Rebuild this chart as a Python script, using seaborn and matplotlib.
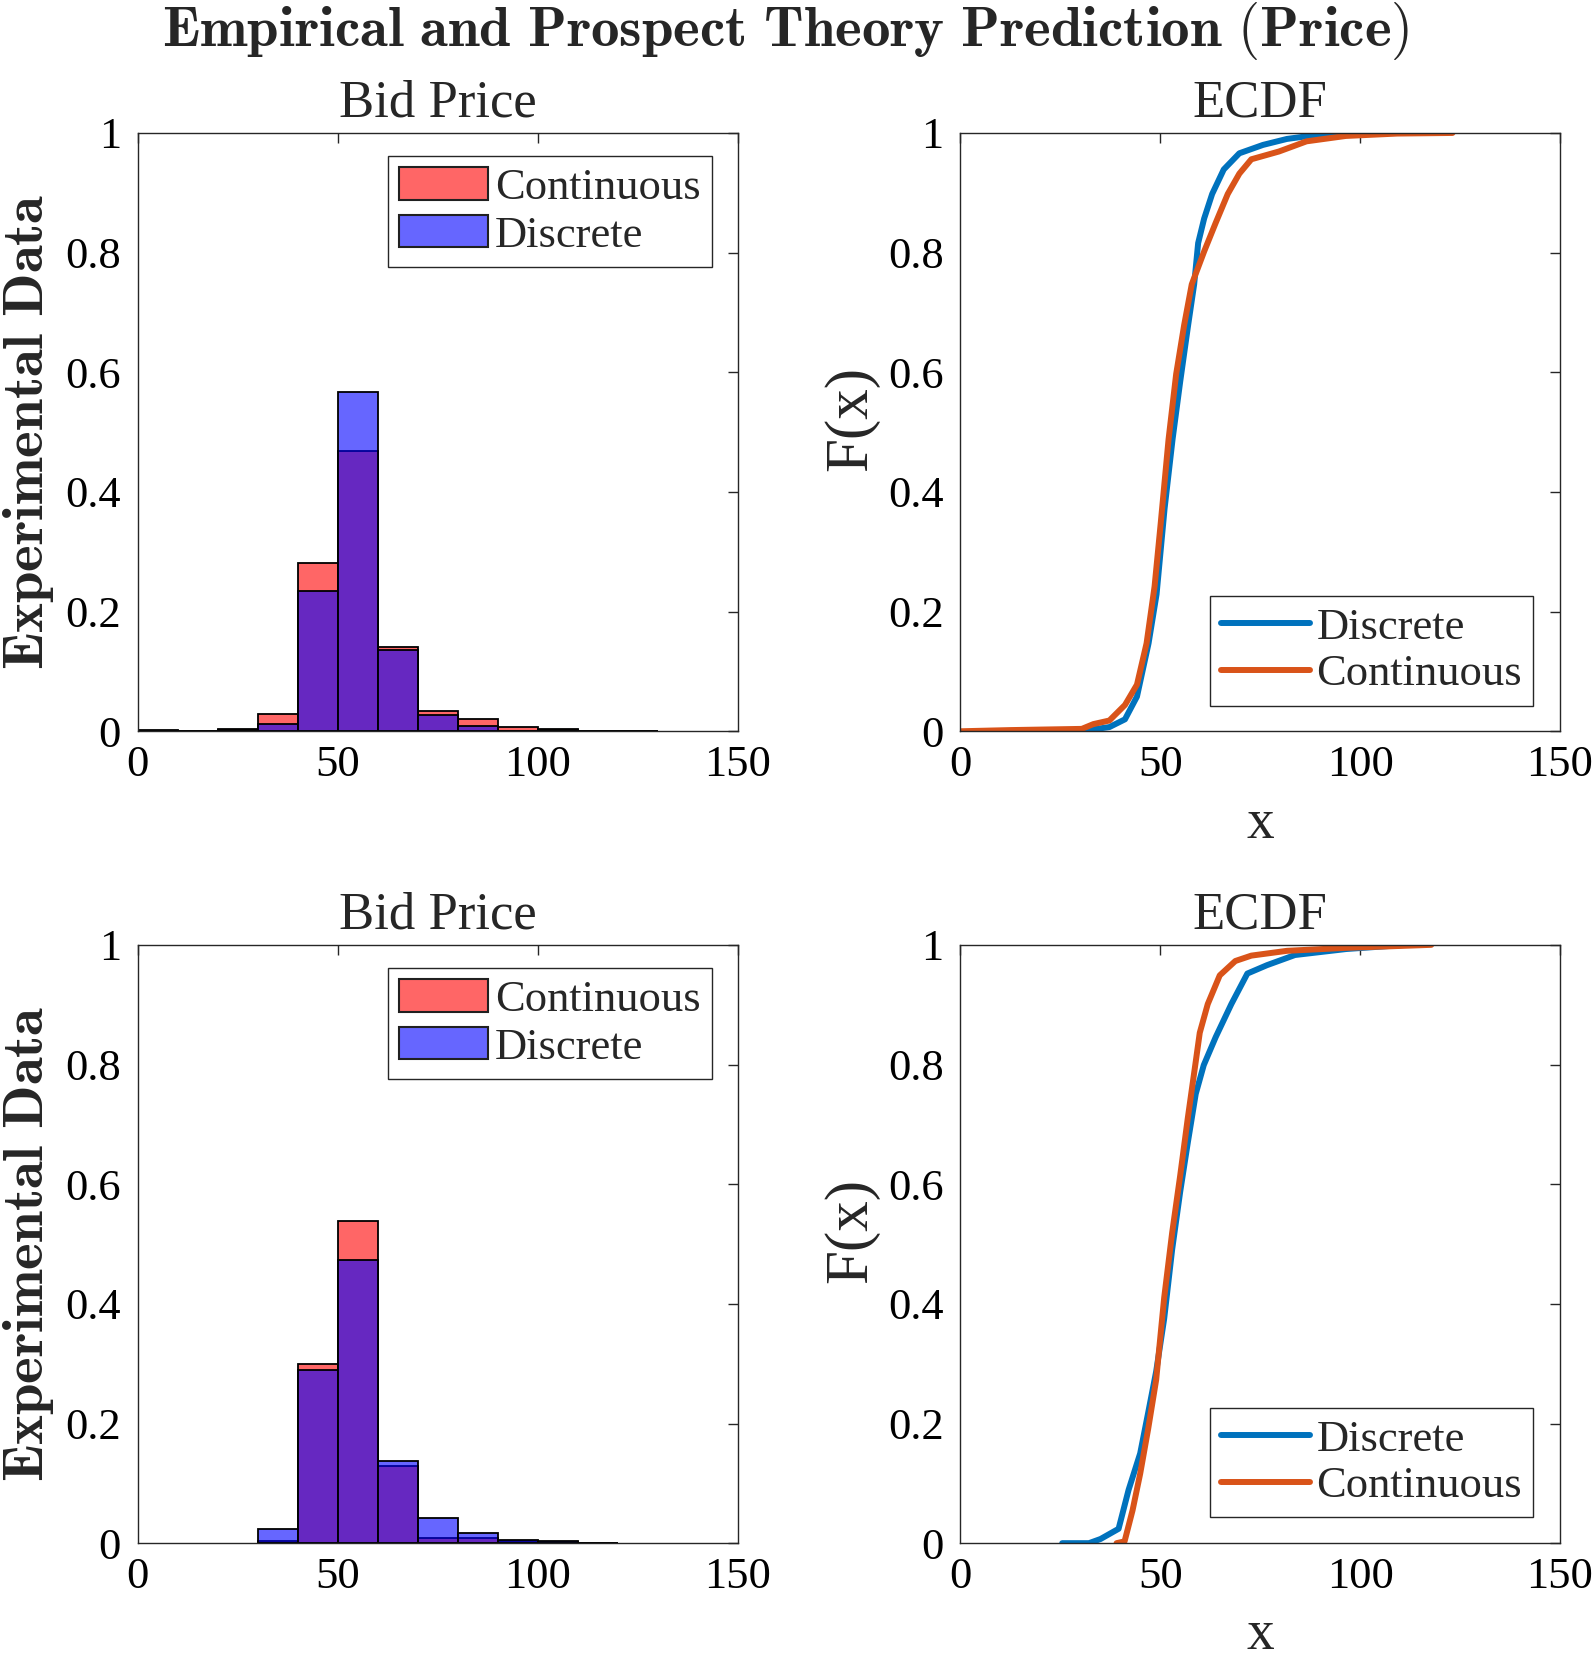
import matplotlib
matplotlib.use("Agg")

import matplotlib.pyplot as plt
import matplotlib.patches as mpatches
import seaborn as sns


# histogram bins (bin width 10)
EDGES_TOP = [0, 10, 20, 30, 40, 50, 60, 70, 80, 90, 100, 110, 120, 130]
EDGES_BOTTOM = [30, 40, 50, 60, 70, 80, 90, 100, 110, 120]

# relative frequencies
HIST_TOP_CONT = [0.002, 0.001, 0.003, 0.029, 0.282, 0.468, 0.1415, 0.0345, 0.0206, 0.0067, 0.003, 0.0, 0.001]
HIST_TOP_DISC = [0.0, 0.0, 0.002, 0.012, 0.235, 0.567, 0.136, 0.027, 0.0095, 0.001, 0.002, 0.0, 0.0]
HIST_BOT_CONT = [0.003, 0.2997, 0.539, 0.129, 0.008, 0.009, 0.003, 0.002, 0.0005]
HIST_BOT_DISC = [0.023, 0.2886, 0.474, 0.137, 0.042, 0.017, 0.006, 0.004, 0.001]

# ECDF curves
ECDF_TOP_DISC_X = [28.4, 33.0, 37.3, 41.2, 44.2, 47.1, 49.1, 51.1, 53.1, 55.0, 57.0, 58.5, 59.5,
                   61.0, 63.0, 65.9, 69.8, 75.7, 81.7, 89.5, 102.9]
ECDF_TOP_DISC_F = [0.0, 0.003, 0.007, 0.02, 0.058, 0.147, 0.229, 0.372, 0.488, 0.584, 0.679, 0.747, 0.816,
                   0.857, 0.898, 0.939, 0.966, 0.980, 0.990, 0.997, 1.0]
ECDF_TOP_CONT_X = [0.0, 12.6, 30.4, 33.3, 37.3, 41.2, 44.2, 46.6, 48.6, 50.1, 52.1, 54.0, 56.0, 57.9,
                   61.0, 63.9, 66.9, 69.8, 72.8, 79.7, 86.6, 96.4, 109.3, 123.1]
ECDF_TOP_CONT_F = [0.0, 0.002, 0.004, 0.012, 0.018, 0.044, 0.078, 0.147, 0.242, 0.345, 0.488, 0.597, 0.679, 0.747,
                   0.802, 0.850, 0.898, 0.932, 0.956, 0.969, 0.986, 0.995, 0.999, 1.0]
ECDF_BOT_DISC_X = [25.5, 32.2, 35.1, 39.6, 42.1, 45.0, 47.0, 49.0, 51.0, 53.0, 55.0, 56.9, 58.9,
                   60.9, 63.9, 67.8, 71.8, 76.7, 83.7, 96.5, 111.4]
ECDF_BOT_DISC_F = [0.0, 0.0, 0.007, 0.024, 0.089, 0.150, 0.218, 0.287, 0.375, 0.491, 0.587, 0.669, 0.751,
                   0.799, 0.846, 0.901, 0.952, 0.966, 0.983, 0.993, 1.0]
ECDF_BOT_CONT_X = [39.1, 41.1, 43.1, 45.0, 47.0, 49.0, 51.0, 53.0, 55.0, 56.9, 58.9, 59.9, 61.9,
                   64.9, 68.8, 72.8, 81.7, 96.5, 117.8]
ECDF_BOT_CONT_F = [0.0, 0.003, 0.055, 0.116, 0.191, 0.273, 0.410, 0.519, 0.614, 0.710, 0.805, 0.853, 0.901,
                   0.949, 0.973, 0.982, 0.990, 0.995, 1.0]

X_TICKS = [0, 50, 100, 150]
Y_TICKS = [0, 0.2, 0.4, 0.6, 0.8, 1]
Y_TICK_LABELS = ["0", "0.2", "0.4", "0.6", "0.8", "1"]

RED = "#ff0000"
BLUE = "#0000ff"
LINE_BLUE = "#0072bd"
LINE_ORANGE = "#d95319"
AX_COLOR = "#262626"

TICK_SIZE = 32
LINE_W = 4.3

sns.set_theme(style="white")
plt.rcParams["font.family"] = ["Liberation Serif", "DejaVu Serif"]
plt.rcParams["mathtext.fontset"] = "cm"


def style_axes(ax):
    ax.set_xlim(0, 150)
    ax.set_ylim(0, 1)
    ax.set_xticks(X_TICKS)
    ax.set_xticklabels([str(t) for t in X_TICKS])
    ax.set_yticks(Y_TICKS)
    ax.set_yticklabels(Y_TICK_LABELS)
    ax.tick_params(direction="in", length=7, width=1, color=AX_COLOR,
                   top=True, right=True, labelsize=TICK_SIZE, labelcolor="black")
    ax.tick_params(axis="x", pad=10)
    ax.tick_params(axis="y", pad=12)
    for side in ["top", "bottom", "left", "right"]:
        ax.spines[side].set_visible(True)
        ax.spines[side].set_color(AX_COLOR)
        ax.spines[side].set_linewidth(1.0)
    ax.set_xlabel("")
    ax.set_ylabel("")
    ax.grid(False)


def draw_hist(ax, edges, cont, disc):
    centers = [(a + b) / 2 for a, b in zip(edges[:-1], edges[1:])]
    sns.histplot(x=centers, weights=cont, bins=edges, color=RED, alpha=0.6,
                 edgecolor="black", linewidth=1.3, ax=ax)
    sns.histplot(x=centers, weights=disc, bins=edges, color=BLUE, alpha=0.6,
                 edgecolor="black", linewidth=1.3, ax=ax)
    style_axes(ax)
    ax.set_title("Bid Price", fontsize=38, pad=12)
    handles = [
        mpatches.Patch(facecolor=(1, 0, 0, 0.6), edgecolor="#202020", linewidth=1.5, label="Continuous"),
        mpatches.Patch(facecolor=(0, 0, 1, 0.6), edgecolor="#202020", linewidth=1.5, label="Discrete"),
    ]
    leg = ax.legend(handles=handles, loc="upper right", bbox_to_anchor=(0.957, 0.961),
                    fontsize=TICK_SIZE, frameon=True, fancybox=False, framealpha=1,
                    edgecolor=AX_COLOR, borderaxespad=0, borderpad=0.25,
                    handlelength=2.0, handleheight=0.75, handletextpad=0.15, labelspacing=0.15)
    leg.get_frame().set_linewidth(1.0)


def draw_ecdf(ax, dx, df, cx, cf):
    sns.lineplot(x=dx, y=df, color=LINE_BLUE, linewidth=LINE_W, estimator=None, sort=False, ax=ax)
    sns.lineplot(x=cx, y=cf, color=LINE_ORANGE, linewidth=LINE_W, estimator=None, sort=False, ax=ax)
    style_axes(ax)
    ax.set_title("ECDF", fontsize=38, pad=12)
    handles = [
        plt.Line2D([], [], color=LINE_BLUE, linewidth=LINE_W, label="Discrete"),
        plt.Line2D([], [], color=LINE_ORANGE, linewidth=LINE_W, label="Continuous"),
    ]
    leg = ax.legend(handles=handles, loc="lower right", bbox_to_anchor=(0.9555, 0.043),
                    fontsize=TICK_SIZE, frameon=True, fancybox=False, framealpha=1,
                    edgecolor=AX_COLOR, borderaxespad=0, borderpad=0.25,
                    handlelength=2.0, handletextpad=0.15, labelspacing=0.15)
    leg.get_frame().set_linewidth(1.0)


fig = plt.figure(figsize=(15.94, 16.62), dpi=100)

left_x, right_x, width = 0.0864, 0.6024, 0.3763
top_b, bot_b, height = 0.5600, 0.0715, 0.3600

ax_h1 = fig.add_axes([left_x, top_b, width, height])
ax_e1 = fig.add_axes([right_x, top_b, width, height])
ax_h2 = fig.add_axes([left_x, bot_b, width, height])
ax_e2 = fig.add_axes([right_x, bot_b, width, height])

draw_hist(ax_h1, EDGES_TOP, HIST_TOP_CONT, HIST_TOP_DISC)
draw_hist(ax_h2, EDGES_BOTTOM, HIST_BOT_CONT, HIST_BOT_DISC)
draw_ecdf(ax_e1, ECDF_TOP_DISC_X, ECDF_TOP_DISC_F, ECDF_TOP_CONT_X, ECDF_TOP_CONT_F)
draw_ecdf(ax_e2, ECDF_BOT_DISC_X, ECDF_BOT_DISC_F, ECDF_BOT_CONT_X, ECDF_BOT_CONT_F)

fig.text(0.493, 1.0, r"$\mathbf{Empirical\ and\ Prospect\ Theory\ Prediction\ (Price)}$",
         ha="center", va="top", fontsize=41)

for yc in [top_b + height / 2, bot_b + height / 2]:
    fig.text(0.0005, yc, r"$\mathbf{Experimental\ Data}$", rotation=90,
             ha="left", va="center", fontsize=41)
    fig.text(0.534, yc + 0.008, "F(x)", rotation=90, ha="center", va="center", fontsize=44)

fig.text(right_x + width / 2, 0.5042, "x", ha="center", va="center", fontsize=40)
fig.text(right_x + width / 2, 0.0005, "x", ha="center", va="bottom", fontsize=40)

fig.savefig("out.png", dpi=100)
plt.close(fig)
